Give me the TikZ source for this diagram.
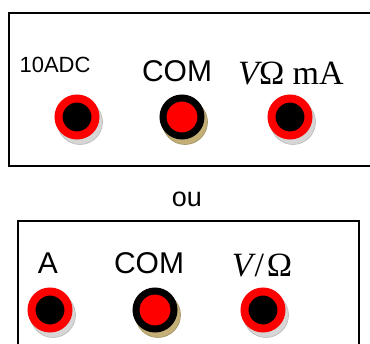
\documentclass[tikz,border=0pt]{standalone}
\usepackage{fontspec}
\setmainfont{Liberation Sans}
\newfontfamily\unitfont{Liberation Serif}
\usepackage{tikz}
\usetikzlibrary{positioning}

\definecolor{shadowgray}{RGB}{214,214,214}
\definecolor{shadowtan}{RGB}{196,176,118}

\begin{document}
\begin{tikzpicture}[
      x=1pt, y=-1pt,
      panel/.style={draw=black, line width=2pt},
      jack_red/.style={circle, fill=black, draw=red, line width=8pt, minimum size=37pt, inner sep=0pt},
      jack_com/.style={circle, fill=red, draw=black, line width=7pt, minimum size=38pt, inner sep=0pt},
      under_gray/.style={circle, fill=shadowgray, draw=gray!55, line width=0.6pt, minimum size=45pt, inner sep=0pt},
      under_tan/.style={circle, fill=shadowtan, draw=shadowtan!80!black, line width=0.6pt, minimum size=45pt, inner sep=0pt},
      lbl/.style={inner sep=0pt, font=\fontsize{30}{32}\selectfont},
      unit_lbl/.style={inner sep=0pt, font=\unitfont\fontsize{34}{36}\selectfont}
    ]
      \useasboundingbox (0,0) rectangle (370,344);
      \fill[white] (0,0) rectangle (370,344);

      % panels
      \draw[panel] (9,13) rectangle (375,166);
      \draw[panel] (18,221) rectangle (359,350);

      % jacks, first panel
      \node[under_gray] (adcS) at (80,122) {};
      \node[jack_red] (adc) at (77,117) {};
      \node[under_tan] (comS) at (185,122) {};
      \node[jack_com] (com) at (182,117) {};
      \node[under_gray] (vmaS) at (293,122) {};
      \node[jack_red] (vma) at (290,117) {};

      % jacks, second panel
      \node[under_gray] (ampS) at (53,315) {};
      \node[jack_red] (amp) at (50,310) {};
      \node[under_tan] (combS) at (158,315) {};
      \node[jack_com] (comb) at (155,310) {};
      \node[under_gray] (vohmS) at (266,315) {};
      \node[jack_red] (vohm) at (263,310) {};

      % labels
      \node[lbl, font=\fontsize{22}{24}\selectfont] (adcL) at (55,65) {10ADC};
      \node[lbl] (comL) at (177,71) {COM};
      \node[unit_lbl] (vmaL) at (291,74) {{\itshape V}Ω mA};
      \node[lbl, font=\fontsize{27}{29}\selectfont] (ou) at (187,199) {ou};
      \node[lbl] (ampL) at (48,263) {A};
      \node[lbl] (combL) at (149,263) {COM};
      \node[unit_lbl] (vohmL) at (262,266) {{\itshape V}\kern2pt/\kern3ptΩ};
    \end{tikzpicture}
\end{document}
